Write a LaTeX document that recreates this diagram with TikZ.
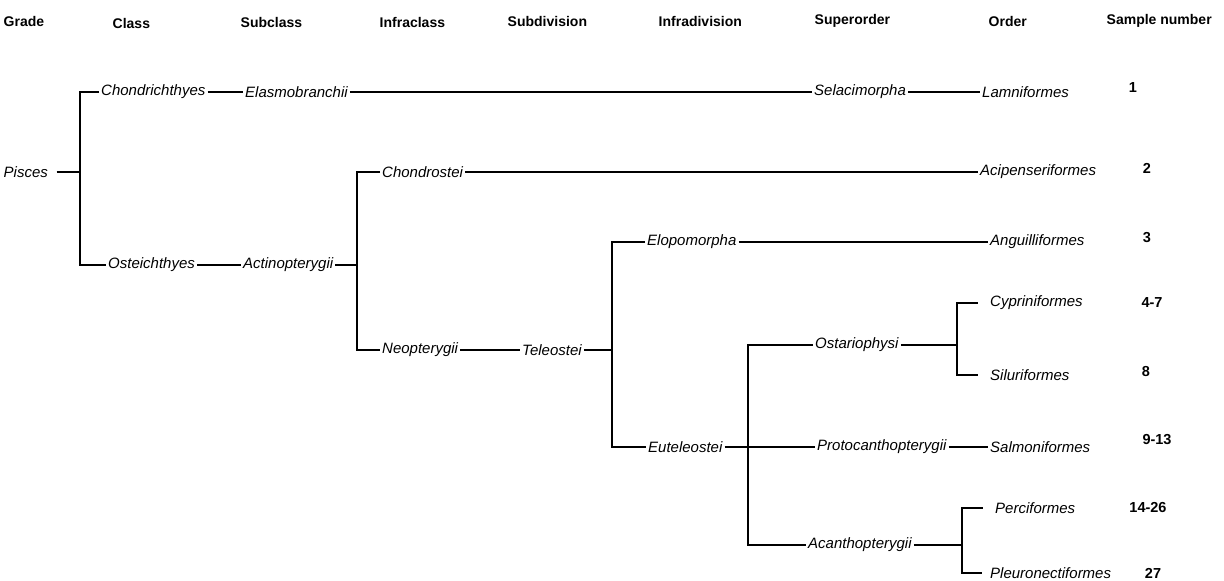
\documentclass[tikz,border=0pt]{standalone}
\usepackage{fontspec}
\setmainfont{Liberation Sans}
\usetikzlibrary{positioning}

\begin{document}
\begin{tikzpicture}[x=1pt, y=-1pt, line width=1.4pt]

  % Define styles
  \tikzstyle{hdr} = [anchor=west, inner sep=0pt, font=\bfseries\fontsize{14}{16}\selectfont]
  \tikzstyle{taxon} = [anchor=west, inner sep=1.5pt, font=\itshape\fontsize{15}{18}\selectfont]
  \tikzstyle{samp} = [inner sep=0pt, font=\bfseries\fontsize{14.5}{16}\selectfont]
  \tikzstyle{line} = [draw, line width=1.4pt]

  \useasboundingbox (0,0) rectangle (1224,581);

  % Column heads
  \node [hdr] (hgrade) at (3,21) {Grade};
  \node [hdr] (hclass) at (112,23) {Class};
  \node [hdr] (hsubclass) at (240,22) {Subclass};
  \node [hdr] (hinfraclass) at (379,22) {Infraclass};
  \node [hdr] (hsubdivision) at (507,21) {Subdivision};
  \node [hdr] (hinfradivision) at (658,21) {Infradivision};
  \node [hdr] (hsuperorder) at (814,21) {Superorder};
  \node [hdr] (horder) at (988,21) {Order};
  \node [hdr] (hsample) at (1106,21) {Sample number};

  % Place nodes
  \node [taxon, inner sep=0pt] (pisces) at (3,172) {Pisces};
  \node [taxon] (chondrichthyes) at (99,92) {Chondrichthyes};
  \node [taxon] (elasmobranchii) at (243,92) {Elasmobranchii};
  \node [taxon] (selacimorpha) at (812,92) {Selacimorpha};
  \node [taxon] (lamniformes) at (980,92) {Lamniformes};
  \node [taxon] (osteichthyes) at (106,265) {Osteichthyes};
  \node [taxon] (actinopterygii) at (241,265) {Actinopterygii};
  \node [taxon] (chondrostei) at (380,172) {Chondrostei};
  \node [taxon] (acipenseriformes) at (978,172) {Acipenseriformes};
  \node [taxon] (neopterygii) at (380,350) {Neopterygii};
  \node [taxon] (teleostei) at (520,350) {Teleostei};
  \node [taxon] (elopomorpha) at (645,242) {Elopomorpha};
  \node [taxon] (anguilliformes) at (988,242) {Anguilliformes};
  \node [taxon] (euteleostei) at (646,447) {Euteleostei};
  \node [taxon] (ostariophysi) at (813,345) {Ostariophysi};
  \node [taxon] (cypriniformes) at (988,303) {Cypriniformes};
  \node [taxon] (siluriformes) at (988,375) {Siluriformes};
  \node [taxon] (protocanthopterygii) at (815,447) {Protocanthopterygii};
  \node [taxon] (salmoniformes) at (988,447) {Salmoniformes};
  \node [taxon] (acanthopterygii) at (806,545) {Acanthopterygii};
  \node [taxon] (perciformes) at (993,508) {Perciformes};
  \node [taxon] (pleuronectiformes) at (988,573) {Pleuronectiformes};

  % Sample numbers
  \node [samp] (s1) at (1133,88) {1};
  \node [samp] (s2) at (1147,168) {2};
  \node [samp] (s3) at (1147,238) {3};
  \node [samp] (s4) at (1152,303) {4-7};
  \node [samp] (s8) at (1146,372) {8};
  \node [samp] (s9) at (1157,440) {9-13};
  \node [samp] (s14) at (1148,508) {14-26};
  \node [samp] (s27) at (1153,573) {27};

  % Branch points
  \coordinate (jroot) at (80,172);
  \coordinate (jact) at (357,265);
  \coordinate (jtel) at (612,350);
  \coordinate (jeut) at (748,447);
  \coordinate (jost) at (957,345);
  \coordinate (jaca) at (962,545);

  % Draw edges
  \path [line, line width=2pt, shorten <=8pt] (pisces.east) -- (jroot);
  \path [line] (chondrichthyes.west) -| (jroot) |- (osteichthyes.west);
  \path [line] (chondrichthyes) -- (elasmobranchii);
  \path [line] (elasmobranchii) -- (selacimorpha);
  \path [line] (selacimorpha) -- (lamniformes);
  \path [line] (osteichthyes) -- (actinopterygii);
  \path [line] (actinopterygii) -- (jact);
  \path [line] (chondrostei.west) -| (jact) |- (neopterygii.west);
  \path [line] (chondrostei) -- (acipenseriformes);
  \path [line] (neopterygii) -- (teleostei);
  \path [line] (teleostei) -- (jtel);
  \path [line] (elopomorpha.west) -| (jtel) |- (euteleostei.west);
  \path [line] (elopomorpha) -- (anguilliformes);
  \path [line] (euteleostei) -- (protocanthopterygii);
  \path [line] (ostariophysi.west) -| (jeut) |- (acanthopterygii.west);
  \path [line] (protocanthopterygii) -- (salmoniformes);
  \path [line] (ostariophysi) -- (jost);
  \path [line, shorten >=10pt] (jost) |- (cypriniformes.west);
  \path [line, shorten >=10pt] (jost) |- (siluriformes.west);
  \path [line] (acanthopterygii) -- (jaca);
  \path [line, shorten >=10pt] (jaca) |- (perciformes.west);
  \path [line, shorten >=6pt] (jaca) |- (pleuronectiformes.west);

\end{tikzpicture}
\end{document}
